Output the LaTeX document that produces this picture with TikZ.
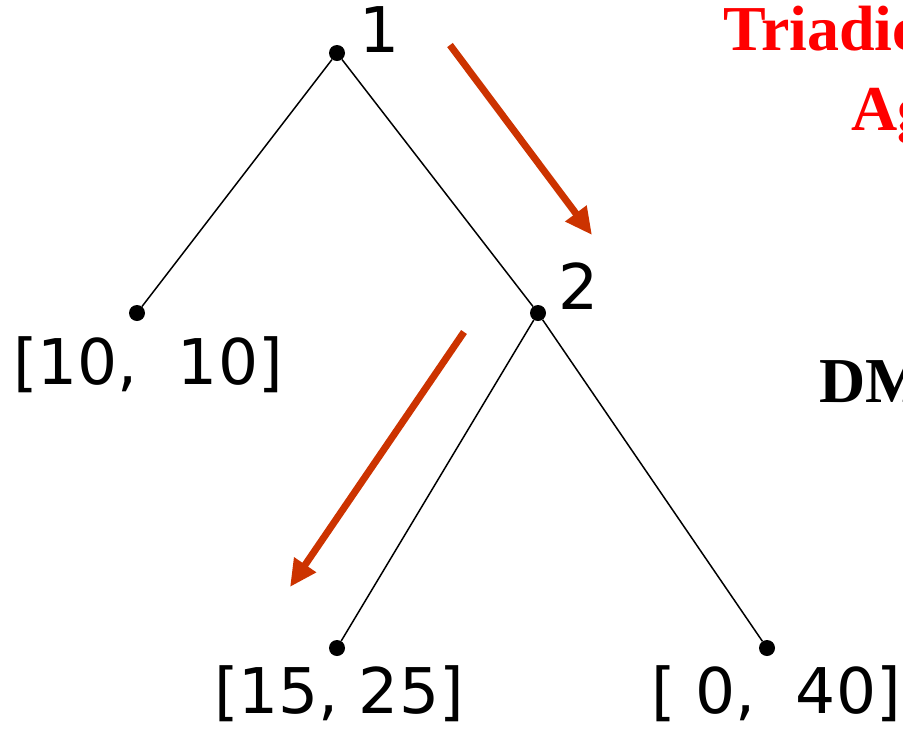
\documentclass[tikz,border=0pt]{standalone}
\usepackage{fontspec}
\usepackage{tikz}
\usetikzlibrary{arrows.meta}
\newfontfamily\labfont{DejaVu Sans}
\newfontfamily\headfont{Liberation Serif}
\definecolor{movered}{RGB}{204,51,0}
\begin{document}
\begin{tikzpicture}[x=1pt,y=-1pt,
	dot/.style={circle,fill=black,inner sep=0pt,minimum size=16pt},
	lab/.style={inner sep=0pt,font=\labfont\fontsize{63}{63}\selectfont},
	head/.style={inner sep=0pt,anchor=base west,font=\headfont\bfseries\fontsize{64}{64}\selectfont},
	move/.style={color=movered,line width=7pt,-{Triangle[length=27pt,width=25pt]}}]
	\useasboundingbox (0,0) rectangle (903,732);
	\clip (0,0) rectangle (903,732);
	\node[dot] (N1) at (337,53) {};
	\node[dot] (N2) at (538,313) {};
	\node[dot] (L1) at (137,313) {};
	\node[dot] (L2) at (337,648) {};
	\node[dot] (L3) at (767,648) {};
	\node[lab,anchor=base west] (T1) at (359,52) {1};
	\node[lab,anchor=base west] (T2) at (558,309) {2};
	\node[lab,anchor=base] (P1) at (148,384) {[10,\ \ 10]};
	\node[lab,anchor=base,text depth=0pt] (P2) at (339,713) {[15, 25]};
	\node[lab,anchor=base,text depth=0pt] (P3) at (776,713) {[\ 0,\ \ 40]};
	\path[-,line width=1.5pt]
	     (N1) edge (L1)  (N1) edge (N2)
	     (N2) edge (L2)  (N2) edge (L3);
	\coordinate (A1) at (450,45);
	\coordinate (B1) at (592,235);
	\coordinate (A2) at (464,332);
	\coordinate (B2) at (290,587);
	\draw[move] (A1) -- (B1);
	\draw[move] (A2) -- (B2);
	\node[head,text=red] (H1) at (723,50) {Triadic};
	\node[head,text=red] (H2) at (851,130) {Ag};
	\node[head,text=black] (H3) at (819,402) {DM};
\end{tikzpicture}
\end{document}
